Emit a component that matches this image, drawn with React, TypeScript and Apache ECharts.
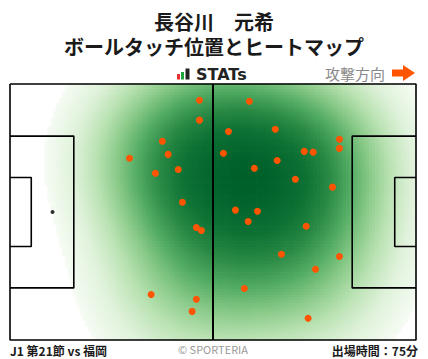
import React, { useEffect, useRef } from "react";
import * as echarts from "echarts";

const PITCH_LENGTH = 105;
const PITCH_WIDTH = 68;

// Ball-touch positions in metres (x: towards attacking goal, y: from top touchline)
const touchX = [49.0, 49.0, 39.4, 40.9, 30.9, 37.6, 43.5, 44.6, 48.2, 49.5, 36.5, 48.2, 47.1,
  61.9, 56.5, 68.6, 55.2, 85.2, 85.2, 76.1, 78.4, 69.1, 63.2, 73.8, 83.4, 58.3, 64.0, 61.6,
  76.6, 70.2, 85.2, 79.0, 60.6, 77.1];
const touchY = [4.3, 9.6, 15.2, 18.7, 19.7, 23.7, 22.7, 31.4, 38.1, 38.9, 55.9, 57.2, 60.4,
  4.6, 12.6, 12.0, 18.4, 14.7, 17.1, 17.9, 18.1, 20.3, 22.4, 25.3, 27.4, 33.5, 33.8, 36.5,
  37.8, 45.2, 45.8, 49.2, 54.3, 62.2];

const heatColors = ["#f7fcf5", "#e0f2db", "#b9e2b2", "#88c987", "#52ab62", "#2a8a45", "#0d7134", "#00602a"];

const titleText = "長谷川　元希\nボールタッチ位置とヒートマップ";
const matchText = "J1 第21節 vs 福岡";
const minutesText = "出場時間：75分";

const BW_ADJUST = 1.7;
const THRESH = 0.05;
const GAMMA = 0.75;

// --- Gaussian KDE derived from touch positions, coloured by iso-proportion ---
function buildHeat() {
  const n = touchX.length;
  const mx = touchX.reduce((a, b) => a + b, 0) / n;
  const my = touchY.reduce((a, b) => a + b, 0) / n;
  let sxx = 0, syy = 0, sxy = 0;
  for (let i = 0; i < n; i++) {
    const dx = touchX[i] - mx, dy = touchY[i] - my;
    sxx += dx * dx; syy += dy * dy; sxy += dx * dy;
  }
  sxx /= n - 1; syy /= n - 1; sxy /= n - 1;
  const f = Math.pow(n, -1 / 6) * BW_ADJUST;
  const cxx = sxx * f * f, cyy = syy * f * f, cxy = sxy * f * f;
  const det = cxx * cyy - cxy * cxy;
  const ixx = cyy / det, iyy = cxx / det, ixy = -cxy / det;
  const dens = (x: number, y: number) => {
    let s = 0;
    for (let i = 0; i < n; i++) {
      const dx = x - touchX[i], dy = y - touchY[i];
      s += Math.exp(-0.5 * (ixx * dx * dx + 2 * ixy * dx * dy + iyy * dy * dy));
    }
    return s;
  };
  const bx = Math.sqrt(cxx), by = Math.sqrt(cyy);
  const x0 = Math.min(...touchX) - 3 * bx, x1 = Math.max(...touchX) + 3 * bx;
  const y0 = Math.min(...touchY) - 3 * by, y1 = Math.max(...touchY) + 3 * by;
  const G = 160;
  const vals: number[] = [];
  for (let i = 0; i < G; i++) {
    for (let j = 0; j < G; j++) {
      vals.push(dens(x0 + (x1 - x0) * i / (G - 1), y0 + (y1 - y0) * j / (G - 1)));
    }
  }
  vals.sort((a, b) => a - b);
  const cum: number[] = new Array(vals.length);
  let acc = 0;
  for (let k = 0; k < vals.length; k++) { acc += vals[k]; cum[k] = acc; }
  const total = acc;
  const massBelow = (d: number) => {
    let lo = 0, hi = vals.length - 1, idx = -1;
    while (lo <= hi) {
      const mid = (lo + hi) >> 1;
      if (vals[mid] <= d) { idx = mid; lo = mid + 1; } else hi = mid - 1;
    }
    return idx < 0 ? 0 : cum[idx] / total;
  };
  const nx = 140, ny = 91;
  const cw = PITCH_LENGTH / nx, ch = PITCH_WIDTH / ny;
  const data: number[][] = [];
  for (let i = 0; i < nx; i++) {
    for (let j = 0; j < ny; j++) {
      const x = (i + 0.5) * cw, y = (j + 0.5) * ch;
      const q = massBelow(dens(x, y));
      if (q >= THRESH) {
        const t = Math.min(1, (q - THRESH) / (1 - THRESH));
        data.push([x, y, Math.pow(t, GAMMA)]);
      }
    }
  }
  return { data, cw, ch };
}

export default function App() {
  const ref = useRef<HTMLDivElement>(null);
  useEffect(() => {
    if (!ref.current) return;
    const chart = echarts.init(ref.current, null, { renderer: "svg" });
    const heat = buildHeat();
    const L = PITCH_LENGTH, W = PITCH_WIDTH;
    const pbTop = (W - 40.32) / 2, pbBot = (W + 40.32) / 2;
    const gaTop = (W - 18.32) / 2, gaBot = (W + 18.32) / 2;
    const lineSeries = (data: number[][], width = 1.6) => ({
      type: "line",
      data,
      symbol: "none",
      clip: false,
      silent: true,
      z: 4,
      lineStyle: { color: "#000", width },
    });
    const font = "'Noto Sans CJK JP', 'Noto Sans', sans-serif";
    chart.setOption({
      animation: false,
      backgroundColor: "#fff",
      grid: { left: 10, top: 84, width: 406, height: 256, containLabel: false },
      xAxis: { type: "value", min: 0, max: L, show: false },
      yAxis: { type: "value", min: 0, max: W, inverse: true, show: false },
      visualMap: {
        show: false,
        type: "continuous",
        seriesIndex: 0,
        dimension: 2,
        min: 0,
        max: 1,
        inRange: { color: heatColors },
      },
      series: [
        {
          type: "custom",
          data: heat.data,
          silent: true,
          z: 1,
          renderItem: (params: any, api: any) => {
            const x = api.value(0), y = api.value(1);
            const p0 = api.coord([x - heat.cw / 2, y - heat.ch / 2]);
            const p1 = api.coord([x + heat.cw / 2, y + heat.ch / 2]);
            return {
              type: "rect",
              shape: {
                x: Math.min(p0[0], p1[0]) - 0.35,
                y: Math.min(p0[1], p1[1]) - 0.35,
                width: Math.abs(p1[0] - p0[0]) + 0.7,
                height: Math.abs(p1[1] - p0[1]) + 0.7,
              },
              style: { fill: api.visual("color") },
            };
          },
        },
        lineSeries([[0, 0], [L, 0], [L, W], [0, W], [0, 0]], 1.6),
        lineSeries([[L / 2, 0], [L / 2, W]], 2),
        lineSeries([[0, pbTop], [16.5, pbTop], [16.5, pbBot], [0, pbBot]]),
        lineSeries([[0, gaTop], [5.5, gaTop], [5.5, gaBot], [0, gaBot]]),
        lineSeries([[L, pbTop], [L - 16.5, pbTop], [L - 16.5, pbBot], [L, pbBot]]),
        lineSeries([[L, gaTop], [L - 5.5, gaTop], [L - 5.5, gaBot], [L, gaBot]]),
        {
          type: "scatter",
          data: [[11, W / 2]],
          symbolSize: 4,
          silent: true,
          z: 4,
          itemStyle: { color: "#000" },
        },
        {
          type: "scatter",
          data: touchX.map((x, i) => [x, touchY[i]]),
          symbolSize: 7,
          silent: true,
          z: 6,
          itemStyle: { color: "#ff5500", opacity: 1 },
        },
      ],
      graphic: [
        {
          type: "text", x: 214, y: 9,
          style: { text: titleText, font: `bold 20px ${font}`, fill: "#1a1a1a", lineHeight: 25, textAlign: "center", textVerticalAlign: "top" },
        },
        { type: "rect", shape: { x: 177, y: 74, width: 3, height: 5.5 }, style: { fill: "#e8312f" } },
        { type: "rect", shape: { x: 181, y: 72, width: 3, height: 7.5 }, style: { fill: "#1fa33c" } },
        { type: "rect", shape: { x: 185.5, y: 68.5, width: 4, height: 11 }, style: { fill: "#222" } },
        {
          type: "text", x: 196, y: 74.5,
          style: { text: "STATs", font: "bold 16px 'DejaVu Sans', sans-serif", fill: "#222", textVerticalAlign: "middle" },
        },
        {
          type: "text", x: 325, y: 73,
          style: { text: "攻撃方向", font: `15px ${font}`, fill: "#8a8a8a", textVerticalAlign: "middle" },
        },
        {
          type: "polygon",
          shape: { points: [[392, 69.5], [403, 69.5], [403, 65], [415, 73], [403, 81], [403, 76.5], [392, 76.5]] },
          style: { fill: "#ff5500" },
        },
        {
          type: "text", x: 10, y: 350,
          style: { text: matchText, font: `bold 12px ${font}`, fill: "#1a1a1a", textVerticalAlign: "middle" },
        },
        {
          type: "text", x: 213, y: 349,
          style: { text: "© SPORTERIA", font: `11px ${font}`, fill: "#999", textAlign: "center", textVerticalAlign: "middle" },
        },
        {
          type: "text", x: 418, y: 350,
          style: { text: minutesText, font: `bold 12px ${font}`, fill: "#1a1a1a", textAlign: "right", textVerticalAlign: "middle" },
        },
      ],
    });
    return () => chart.dispose();
  }, []);
  return (
    <div
      ref={ref}
      style={{ position: "fixed", left: 0, top: 0, width: 428, height: 359, background: "#fff" }}
    />
  );
}
